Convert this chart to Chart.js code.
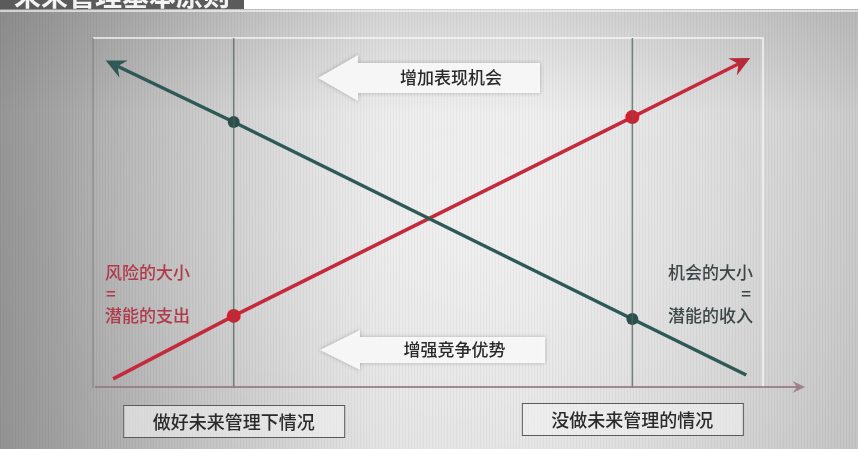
<!DOCTYPE html>
<html>
<head>
<meta charset="utf-8">
<script src="https://cdn.jsdelivr.net/npm/chart.js@4.4.0/dist/chart.umd.min.js"></script>
<style>
  html, body { margin: 0; padding: 0; background: #ffffff; }
  #wrap { width: 858px; height: 449px; position: relative; }
</style>
</head>
<body>
<div id="wrap"><canvas id="diagramChart" width="858" height="449"></canvas></div>
<script>
// ---- data ----
var title = '未来管理基本原则';
var categories = ['做好未来管理下情况', '没做未来管理的情况'];
var categoryX = [2.1, 8.05];

// 机会的大小 (teal line, goes down to the right)
var opportunityX = [0.25, 2.1, 8.05, 9.75];
var opportunityY = [9.3, 7.6, 1.97, 0.37];
// 风险的大小 (red line, goes up to the right)
var riskX = [0.3, 2.1, 8.05, 9.75];
var riskY = [0.26, 2.06, 7.74, 9.37];

var riskLabel = ['风险的大小', '=', '潜能的支出'];
var opportunityLabel = ['机会的大小', '=', '潜能的收入'];
var arrowLabels = ['增加表现机会', '增强竞争优势'];

var FONT = '"Noto Sans CJK SC", "Noto Sans", sans-serif';

function toPoints(xs, ys) {
  var pts = [];
  for (var i = 0; i < xs.length; i++) pts.push({ x: xs[i], y: ys[i] });
  return pts;
}

// ---- background, title band, texture ----
var backdrop = {
  id: 'backdrop',
  beforeDraw: function(chart) {
    var ctx = chart.ctx, w = chart.width, h = chart.height;
    ctx.save();
    var g = ctx.createLinearGradient(0, 0, w, 0);
    g.addColorStop(0, '#979797');
    g.addColorStop(0.12, '#b0b0b0');
    g.addColorStop(0.45, '#e6e6e6');
    g.addColorStop(0.62, '#e8e8e8');
    g.addColorStop(0.9, '#d2d2d2');
    g.addColorStop(1, '#cacaca');
    ctx.fillStyle = g;
    ctx.fillRect(0, 0, w, h);
    var r = ctx.createRadialGradient(470, 240, 20, 470, 240, 420);
    r.addColorStop(0, 'rgba(255,255,255,0.45)');
    r.addColorStop(1, 'rgba(255,255,255,0)');
    ctx.fillStyle = r;
    ctx.fillRect(0, 0, w, h);
    var v = ctx.createLinearGradient(0, 0, 0, h);
    v.addColorStop(0, 'rgba(60,60,60,0.14)');
    v.addColorStop(0.25, 'rgba(60,60,60,0)');
    v.addColorStop(1, 'rgba(60,60,60,0.04)');
    ctx.fillStyle = v;
    ctx.fillRect(0, 0, w, h);
    // scan stripes
    ctx.fillStyle = 'rgba(0,0,0,0.035)';
    for (var x = 0; x < w; x += 3) ctx.fillRect(x, 0, 1, h);
    // title band (cut off at top of the scan)
    ctx.fillStyle = '#ffffff';
    ctx.fillRect(0, 0, w, 9);
    ctx.fillStyle = '#5b5b5b';
    ctx.fillRect(0, 0, 244, 9);
    ctx.beginPath();
    ctx.rect(0, 0, 244, 9);
    ctx.clip();
    ctx.fillStyle = '#f4f4f4';
    ctx.font = 'bold 27px ' + FONT;
    ctx.textBaseline = 'alphabetic';
    ctx.fillText(title, 14, 6);
    ctx.restore();
    ctx.save();
    ctx.strokeStyle = 'rgba(245,245,245,0.9)';
    ctx.lineWidth = 1.5;
    ctx.beginPath();
    ctx.moveTo(0, 11); ctx.lineTo(w, 11);
    ctx.stroke();
    // plot frame
    var a = chart.chartArea;
    ctx.strokeStyle = 'rgba(250,250,250,0.9)';
    ctx.lineWidth = 1.5;
    ctx.beginPath();
    ctx.moveTo(a.left, a.top); ctx.lineTo(a.right, a.top); ctx.lineTo(a.right, a.bottom);
    ctx.stroke();
    ctx.strokeStyle = 'rgba(110,110,110,0.7)';
    ctx.lineWidth = 1;
    ctx.beginPath();
    ctx.moveTo(a.left, a.top); ctx.lineTo(a.left, a.bottom);
    ctx.stroke();
    ctx.restore();
  }
};

function arrowHead(ctx, x1, y1, x2, y2, size, color) {
  var ang = Math.atan2(y2 - y1, x2 - x1);
  ctx.save();
  ctx.fillStyle = color;
  ctx.beginPath();
  ctx.moveTo(x2, y2);
  ctx.lineTo(x2 - size * Math.cos(ang - 0.45), y2 - size * Math.sin(ang - 0.45));
  ctx.lineTo(x2 - size * 0.6 * Math.cos(ang), y2 - size * 0.6 * Math.sin(ang));
  ctx.lineTo(x2 - size * Math.cos(ang + 0.45), y2 - size * Math.sin(ang + 0.45));
  ctx.closePath();
  ctx.fill();
  ctx.restore();
}

function leftArrowBox(ctx, tipX, cy, bodyX, bodyR, halfBody, halfHead, text) {
  ctx.save();
  ctx.shadowColor = 'rgba(0,0,0,0.25)';
  ctx.shadowBlur = 4;
  ctx.fillStyle = 'rgba(250,250,250,0.95)';
  ctx.beginPath();
  ctx.moveTo(tipX, cy);
  ctx.lineTo(bodyX, cy - halfHead);
  ctx.lineTo(bodyX, cy - halfBody);
  ctx.lineTo(bodyR, cy - halfBody);
  ctx.lineTo(bodyR, cy + halfBody);
  ctx.lineTo(bodyX, cy + halfBody);
  ctx.lineTo(bodyX, cy + halfHead);
  ctx.closePath();
  ctx.fill();
  ctx.restore();
  ctx.save();
  ctx.fillStyle = '#2a2a2a';
  ctx.font = '500 17px ' + FONT;
  ctx.textAlign = 'center';
  ctx.textBaseline = 'middle';
  ctx.fillText(text, (bodyX + bodyR) / 2 + 2, cy);
  ctx.restore();
}

// ---- arrows, labels, boxes ----
var decorations = {
  id: 'decorations',
  afterDatasetsDraw: function(chart) {
    var ctx = chart.ctx;
    var xs = chart.scales.x, ys = chart.scales.y;
    var a = chart.chartArea;

    // x axis arrow
    var axY = a.bottom - 1;
    var axEnd = xs.getPixelForValue(10.63);
    ctx.save();
    ctx.strokeStyle = 'rgba(150,120,130,0.85)';
    ctx.lineWidth = 2;
    ctx.beginPath();
    ctx.moveTo(a.left + 2, axY); ctx.lineTo(axEnd - 6, axY);
    ctx.stroke();
    ctx.restore();
    arrowHead(ctx, a.left, axY, axEnd, axY, 14, 'rgba(150,120,130,0.85)');

    // line arrow heads
    arrowHead(ctx, xs.getPixelForValue(opportunityX[1]), ys.getPixelForValue(opportunityY[1]),
      xs.getPixelForValue(opportunityX[0]) - 4, ys.getPixelForValue(opportunityY[0]) - 2, 22, '#2f5956');
    var n = riskX.length - 1;
    arrowHead(ctx, xs.getPixelForValue(riskX[n - 1]), ys.getPixelForValue(riskY[n - 1]),
      xs.getPixelForValue(riskX[n]) + 4, ys.getPixelForValue(riskY[n]) - 2, 22, '#b72a3a');

    // direction arrows
    leftArrowBox(ctx, 318, 78, 358, 540, 15, 23, arrowLabels[0]);
    leftArrowBox(ctx, 320, 350, 360, 545, 13, 20, arrowLabels[1]);

    // side labels
    ctx.save();
    ctx.font = '500 17px ' + FONT;
    ctx.textBaseline = 'middle';
    ctx.fillStyle = '#b03a4a';
    ctx.textAlign = 'left';
    ctx.fillText(riskLabel[0], 105, 273);
    ctx.fillText(riskLabel[1], 106, 294);
    ctx.fillText(riskLabel[2], 105, 316);
    ctx.fillStyle = '#3c4646';
    ctx.textAlign = 'right';
    ctx.fillText(opportunityLabel[0], 753, 273);
    ctx.fillText(opportunityLabel[1], 751, 294);
    ctx.fillText(opportunityLabel[2], 753, 316);
    ctx.restore();

    // category boxes under the vertical lines
    ctx.save();
    ctx.font = '500 18px ' + FONT;
    ctx.textAlign = 'center';
    ctx.textBaseline = 'middle';
    var boxTop = [405, 403];
    for (var i = 0; i < categories.length; i++) {
      var cx = xs.getPixelForValue(categoryX[i]);
      var bw = 221, bh = 32;
      ctx.fillStyle = 'rgba(242,242,242,0.6)';
      ctx.fillRect(cx - bw / 2, boxTop[i], bw, bh);
      ctx.strokeStyle = '#5a5a5a';
      ctx.lineWidth = 1;
      ctx.strokeRect(cx - bw / 2 + 0.5, boxTop[i] + 0.5, bw, bh);
      ctx.fillStyle = '#2a2a2a';
      ctx.fillText(categories[i], cx, boxTop[i] + bh / 2 + 1);
    }
    ctx.restore();
  }
};

var datasets = [];
// vertical category lines
for (var i = 0; i < categoryX.length; i++) {
  datasets.push({
    label: categories[i],
    data: [{ x: categoryX[i], y: 0 }, { x: categoryX[i], y: 10 }],
    showLine: true,
    borderColor: 'rgba(80,95,95,0.75)',
    borderWidth: 1.5,
    pointRadius: 0
  });
}
datasets.push({
  label: '机会的大小',
  data: toPoints(opportunityX, opportunityY),
  showLine: true,
  borderColor: '#2f5956',
  backgroundColor: '#2b4f4b',
  borderWidth: 3.5,
  pointRadius: [0, 6, 6, 0],
  pointBorderWidth: 0
});
datasets.push({
  label: '风险的大小',
  data: toPoints(riskX, riskY),
  showLine: true,
  borderColor: '#c42a3c',
  backgroundColor: '#d3202e',
  borderWidth: 3.5,
  pointRadius: [0, 7, 7, 0],
  pointBorderWidth: 0
});

var chart = new Chart(document.getElementById('diagramChart').getContext('2d'), {
  type: 'scatter',
  data: { datasets: datasets },
  options: {
    responsive: false,
    animation: false,
    layout: { padding: { left: 93, top: 38, right: 95, bottom: 61 } },
    scales: {
      x: { type: 'linear', min: 0, max: 10, display: false },
      y: { type: 'linear', min: 0, max: 10, display: false }
    },
    plugins: {
      legend: { display: false },
      tooltip: { enabled: false }
    }
  },
  plugins: [backdrop, decorations]
});
</script>
</body>
</html>
